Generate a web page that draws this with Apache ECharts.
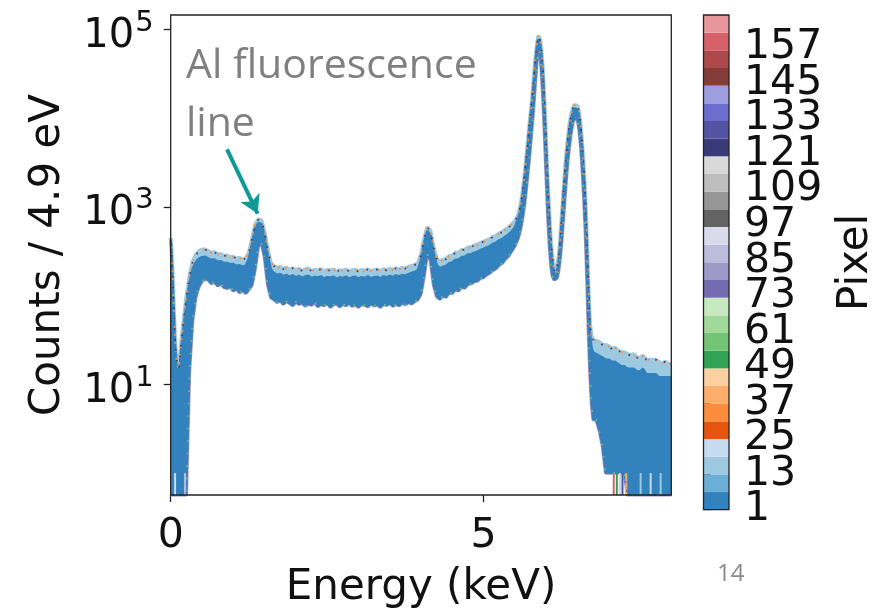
<!DOCTYPE html>
<html>
<head>
<meta charset="utf-8">
<script src="https://cdn.jsdelivr.net/npm/echarts@6/dist/echarts.min.js"></script>
<style>
  html, body { margin: 0; padding: 0; background: #ffffff; }
  #chart { width: 884px; height: 614px; }
</style>
</head>
<body>
<div id="chart"></div>
<script>
// Energy bins (keV) of the per-pixel spectra
const energy = [
  0, 0.01, 0.03, 0.05, 0.07, 0.09, 0.11, 0.13, 0.15, 0.17,
  0.20, 0.25, 0.30, 0.35, 0.40, 0.45, 0.50, 0.55, 0.60, 0.65, 0.70, 0.75, 0.80, 0.85, 0.90, 0.95,
  1.00, 1.05, 1.10, 1.15, 1.20, 1.25, 1.30, 1.35, 1.40, 1.45, 1.50, 1.55, 1.60, 1.65, 1.70, 1.75,
  1.80, 1.85, 1.90, 1.95, 2.00, 2.05, 2.10, 2.15, 2.20, 2.25, 2.30, 2.35, 2.40, 2.45, 2.50, 2.55,
  2.60, 2.65, 2.70, 2.75, 2.80, 2.85, 2.90, 2.95, 3.00, 3.05, 3.10, 3.15, 3.20, 3.25, 3.30, 3.35,
  3.40, 3.45, 3.50, 3.55, 3.60, 3.65, 3.70, 3.75, 3.80, 3.85, 3.90, 3.95, 4.00, 4.05, 4.10, 4.15,
  4.20, 4.25, 4.30, 4.35, 4.40, 4.45, 4.50, 4.55, 4.60, 4.65, 4.70, 4.75, 4.80, 4.85, 4.90, 4.95,
  5.00, 5.05, 5.10, 5.15, 5.20, 5.25, 5.30, 5.35, 5.40, 5.45, 5.50,
  5.525, 5.55, 5.575, 5.60, 5.625, 5.65, 5.675, 5.70, 5.725, 5.75, 5.775, 5.80, 5.825, 5.85, 5.875,
  5.90, 5.925, 5.95, 5.975, 6.00, 6.025, 6.05, 6.075, 6.10, 6.125, 6.15, 6.175, 6.20, 6.225, 6.25,
  6.275, 6.30, 6.325, 6.35, 6.375, 6.40, 6.425, 6.45, 6.475, 6.50, 6.525, 6.55, 6.575, 6.60, 6.625,
  6.65, 6.675, 6.70, 6.725, 6.75, 6.775, 6.80,
  6.85, 6.90, 6.95, 7.00, 7.05, 7.10, 7.15, 7.20, 7.25, 7.30, 7.35, 7.40, 7.45, 7.50, 7.55, 7.60,
  7.65, 7.70, 7.75, 7.80, 7.85, 7.90, 7.95, 8.00
];

// Highest count over all pixels in each bin
const bandTop = [
  447, 355, 178, 71, 32, 20, 16, 15, 21, 30,
  48, 95, 166, 240, 288, 316, 331, 331, 318, 305, 309, 292, 295, 280, 284, 271,
  274, 262, 266, 255, 264, 305, 437, 631, 724, 708, 525, 331, 234, 216, 205, 211,
  199, 207, 196, 204, 193, 201, 190, 198, 203, 188, 196, 192, 199, 187, 195, 191,
  198, 186, 194, 190, 197, 188, 193, 196, 187, 195, 190, 198, 189, 194, 197, 188,
  199, 193, 201, 195, 203, 198, 206, 202, 211, 216, 222, 232, 288, 437, 589, 537,
  355, 263, 243, 254, 259, 279, 284, 305, 306, 327, 329, 350, 352, 368, 377, 393,
  405, 421, 434, 461, 476, 505, 522, 556, 586, 634, 692,
  741, 813, 933, 1148, 1514, 2138, 3162, 4786, 7413, 11220, 16596, 26915, 44668, 66069, 85114,
  79433, 57544, 33113, 14125, 5248, 1905, 832, 417, 263, 200, 182, 214, 275, 437, 794,
  1445, 2512, 4169, 6310, 8710, 10965, 12882, 14125, 14454, 13804, 11749, 8511, 5248, 2818, 1318,
  447, 132, 48, 35, 32, 32, 31,
  30, 28, 28, 27, 25, 26, 24, 23, 23, 22, 21, 22, 20, 20, 21, 19,
  19, 19, 19, 18, 17, 18, 17, 17
];

// Upper edge of the bulk of pixels (the dark core of the band)
const coreTop = [
  420, 330, 160, 62, 28, 17, 14, 13, 18, 26,
  40, 80, 138, 200, 238, 262, 272, 275, 262, 254, 255, 243, 244, 233, 234, 226,
  227, 218, 220, 212, 218, 262, 390, 570, 660, 645, 470, 290, 198, 180, 172, 175,
  166, 172, 163, 170, 161, 167, 158, 165, 168, 157, 163, 160, 165, 156, 162, 159,
  164, 155, 161, 158, 164, 156, 161, 163, 156, 162, 158, 165, 157, 161, 164, 156,
  166, 161, 167, 162, 169, 165, 171, 168, 175, 180, 185, 195, 250, 395, 540, 485,
  310, 222, 203, 211, 216, 232, 236, 254, 255, 272, 274, 291, 293, 306, 314, 327,
  337, 351, 362, 384, 397, 421, 436, 464, 490, 532, 585,
  660, 730, 840, 1040, 1380, 1950, 2900, 4400, 6800, 10300, 15300, 24800, 41000, 61000, 78000,
  73000, 52500, 30000, 12700, 4700, 1700, 740, 370, 232, 178, 163, 190, 245, 392, 715,
  1300, 2270, 3780, 5730, 7930, 10000, 11760, 12900, 13200, 12600, 10700, 7750, 4760, 2540, 1180,
  395, 112, 38, 26, 23, 23, 22,
  21, 20, 19, 19, 18, 18, 17, 16, 16, 15, 15, 15, 14, 14, 15, 13,
  13, 13, 13, 12, 12, 12, 12, 12
];

// Lowest count over all pixels in each bin (0 = empty bin)
const bandBottom = [
  0, 0, 0, 0, 0, 0, 0, 0, 0, 0,
  0, 0, 14, 52, 95, 126, 145, 155, 150, 137, 143, 129, 136, 124, 121, 126,
  113, 119, 108, 114, 106, 117, 132, 200, 355, 398, 263, 132, 95, 90, 84, 88,
  80, 86, 82, 77, 85, 80, 83, 76, 81, 78, 84, 75, 80, 77, 82, 74,
  79, 81, 75, 80, 77, 82, 76, 79, 74, 80, 78, 75, 81, 77, 79, 74,
  80, 78, 82, 76, 80, 77, 83, 79, 84, 81, 86, 90, 105, 166, 295, 251,
  132, 98, 91, 99, 96, 107, 106, 117, 113, 125, 122, 134, 136, 144, 146, 157,
  160, 172, 180, 193, 202, 221, 232, 259, 280, 318, 363,
  398, 437, 501, 603, 759, 1000, 1413, 2089, 3162, 5012, 7943, 13183, 23988, 41687, 60256,
  54954, 33113, 15849, 6310, 2239, 832, 380, 219, 166, 151, 145, 158, 191, 263, 417,
  724, 1259, 2188, 3467, 5012, 6918, 8710, 10000, 10233, 9550, 7586, 5012, 2754, 1318, 550,
  166, 40, 13, 6, 4, 4, 4,
  3, 2, 1, 1, 1, 1, 1, 1, 1, 0, 0, 0, 0, 0, 0, 0,
  0, 0, 0, 0, 0, 0, 0, 0
];

// Bins where a single pixel recorded no counts
const zeroBinEnergy = [0.005, 0.07, 0.23, 7.08, 7.13, 7.18, 7.22, 7.28, 7.51, 7.67, 7.83];
const zeroBinPixel  = [158, 19, 90, 160, 52, 20, 130, 42, 15, 20, 15];

// Axis ticks
const xTicks = [0, 5];
const yTicks = [10, 1000, 100000];
const pixelTicks = [1, 13, 25, 37, 49, 61, 73, 85, 97, 109, 121, 133, 145, 157];
const pixelRange = [1, 168];

// tab20c followed by the blue and red groups of tab20b
const pixelPalette = [
  '#3182bd', '#6baed6', '#9ecae1', '#c6dbef',
  '#e6550d', '#fd8d3c', '#fdae6b', '#fdd0a2',
  '#31a354', '#74c476', '#a1d99b', '#c7e9c0',
  '#756bb1', '#9e9ac8', '#bcbddc', '#dadaeb',
  '#636363', '#969696', '#bdbdbd', '#d9d9d9',
  '#393b79', '#5254a3', '#6b6ecf', '#9c9ede',
  '#843c39', '#ad494a', '#d6616b', '#e7969c'
];

// Annotation arrow, in data units [keV, counts]
const arrowTail = [0.90, 4470];
const arrowHead = [1.39, 840];

const yMin = 0.566, yMax = 145900;
const floorAt = v => Math.max(v, yMin);

const pixelSpan = (pixelRange[1] - pixelRange[0]) / pixelPalette.length;
const pixelColor = p => pixelPalette[Math.min(pixelPalette.length - 1, Math.floor((p - pixelRange[0]) / pixelSpan))];

const lowerTrace = energy.map((e, i) => [e, floorAt(bandBottom[i])]);
const upperTrace = energy.map((e, i) => [e, bandTop[i]]);
const coreTrace = energy.map((e, i) => [e, coreTop[i]]);
const envelope = energy.map((e, i) => [e, bandTop[i], coreTop[i], floorAt(bandBottom[i])]);
const zeroBins = zeroBinEnergy.map((e, i) => [e, zeroBinPixel[i]]);
const colorBins = pixelPalette.map((c, i) => [i, pixelRange[0] + i * pixelSpan, pixelRange[0] + (i + 1) * pixelSpan]);
// colour-bar labels are split over two axes so neighbouring labels are not dropped
const pixelTicksA = pixelTicks.filter((_, i) => i % 2 === 0);
const pixelTicksB = pixelTicks.filter((_, i) => i % 2 === 1);

const FONT = 'DejaVu Sans';
const ink = '#111111';
const bandBlue = '#3182bd';
const haloBlue = '#9ecae1';

// One filled polygon between an upper dimension and the lower envelope
function bandRenderer(upperDim, fill) {
  return (params, api) => {
    if (params.dataIndexInside !== 0) return null;
    const n = params.dataInsideLength;
    const pts = [];
    for (let j = 0; j < n; j++) pts.push(api.coord([api.value(0, j), api.value(upperDim, j)]));
    for (let j = n - 1; j >= 0; j--) pts.push(api.coord([api.value(0, j), api.value(3, j)]));
    return { type: 'polygon', shape: { points: pts }, style: { fill: fill } };
  };
}

function edgeLine(data, color, width, dash, offset, z) {
  return {
    type: 'line', xAxisIndex: 0, yAxisIndex: 0, data: data, z: z,
    showSymbol: false, silent: true,
    lineStyle: { color: color, width: width, type: dash, dashOffset: offset }
  };
}

function colorbarAxis(gridIndex, ticks, withName) {
  const axis = {
    type: 'value', gridIndex: gridIndex, min: pixelRange[0], max: pixelRange[1], position: 'right',
    axisLine: { show: false },
    axisTick: { show: true, length: 7, lineStyle: { color: '#222', width: 1.3 }, customValues: ticks },
    axisLabel: {
      customValues: ticks, fontFamily: FONT, fontSize: 41, color: ink, margin: 15,
      showMinLabel: true, showMaxLabel: true
    },
    splitLine: { show: false }
  };
  if (withName) {
    axis.name = 'Pixel';
    axis.nameLocation = 'middle';
    axis.nameRotate = 90;
    axis.nameGap = 106;
    axis.nameTextStyle = { fontFamily: FONT, fontSize: 42, color: ink };
  }
  return axis;
}

const chart = echarts.init(document.getElementById('chart'), null, { renderer: 'canvas' });

chart.setOption({
  animation: false,
  backgroundColor: '#ffffff',
  grid: [
    { left: 170.7, top: 15, width: 500.6, height: 494.7, show: true, borderColor: '#222', borderWidth: 1.3, backgroundColor: 'transparent', z: 10 },
    { left: 703.5, top: 15, width: 25.5, height: 494.7, show: true, borderColor: '#222', borderWidth: 1.3, backgroundColor: 'transparent', z: 10 },
    { left: 703.5, top: 15, width: 25.5, height: 494.7, show: false }
  ],
  xAxis: [
    {
      type: 'value', gridIndex: 0, min: 0, max: 8, interval: 5,
      axisLine: { show: false },
      axisTick: { show: true, length: 7, lineStyle: { color: '#222', width: 1.3 }, customValues: xTicks },
      axisLabel: { customValues: xTicks, fontFamily: FONT, fontSize: 41, color: ink, margin: 21 },
      splitLine: { show: false },
      name: 'Energy (keV)', nameLocation: 'middle', nameGap: 72,
      nameTextStyle: { fontFamily: FONT, fontSize: 42, color: ink }
    },
    { type: 'value', gridIndex: 1, min: 0, max: 1, show: false },
    { type: 'value', gridIndex: 2, min: 0, max: 1, show: false }
  ],
  yAxis: [
    {
      type: 'log', gridIndex: 0, min: yMin, max: yMax, logBase: 10,
      axisLine: { show: false },
      axisTick: { show: true, length: 7, lineStyle: { color: '#222', width: 1.3 }, customValues: yTicks },
      axisLabel: {
        customValues: yTicks, margin: 17, color: ink,
        formatter: v => '{b|10}{s|' + Math.round(Math.log10(v)) + '}',
        rich: {
          b: { fontFamily: FONT, fontSize: 40, lineHeight: 40, color: ink, padding: [14, 0, 0, 0] },
          s: { fontFamily: FONT, fontSize: 29, lineHeight: 29, color: ink, padding: [0, 0, 12, 1] }
        }
      },
      minorTick: { show: false },
      splitLine: { show: false },
      name: 'Counts / 4.9 eV', nameLocation: 'middle', nameRotate: 90, nameGap: 102,
      nameTextStyle: { fontFamily: FONT, fontSize: 42, color: ink }
    },
    colorbarAxis(1, pixelTicksA, true),
    colorbarAxis(2, pixelTicksB, false)
  ],
  series: [
    {
      // light halo along the upper envelope; also carries the annotation arrow
      type: 'line', xAxisIndex: 0, yAxisIndex: 0, data: upperTrace, z: 1,
      showSymbol: false, silent: true,
      lineStyle: { color: haloBlue, width: 4 },
      markLine: {
        silent: true, symbol: ['none', 'arrow'], symbolSize: [16, 18],
        label: { show: false },
        lineStyle: { color: '#0e9a97', width: 4, type: 'solid' },
        data: [[{ coord: arrowTail }, { coord: arrowHead }]]
      }
    },
    {
      // halo along the lower envelope
      type: 'line', xAxisIndex: 0, yAxisIndex: 0, data: lowerTrace, z: 1,
      showSymbol: false, silent: true,
      lineStyle: { color: '#9e9ac8', width: 3.5 }
    },
    {
      // full spread of the pixel spectra
      type: 'custom', xAxisIndex: 0, yAxisIndex: 0, data: envelope, z: 2, silent: true, clip: true,
      encode: { x: 0, y: [1, 3] },
      renderItem: bandRenderer(1, haloBlue)
    },
    {
      // bulk of the pixel spectra
      type: 'custom', xAxisIndex: 0, yAxisIndex: 0, data: envelope, z: 3, silent: true, clip: true,
      encode: { x: 0, y: [2, 3] },
      renderItem: bandRenderer(2, bandBlue)
    },
    edgeLine(coreTrace, bandBlue, 2.5, 'solid', 0, 3),
    edgeLine(lowerTrace, bandBlue, 2, 'solid', 0, 3),
    // individual outlying pixels showing along the edges of the band
    edgeLine(upperTrace, '#fd8d3c', 1.8, [2, 6], 0, 4),
    edgeLine(upperTrace, '#393b79', 1.8, [1.5, 9], 4, 4),
    edgeLine(lowerTrace, '#756bb1', 1.8, [2, 7], 1, 4),
    edgeLine(lowerTrace, '#74c476', 1.8, [1.5, 11], 6, 4),
    {
      // single-pixel empty bins dropping to the bottom of the axis
      type: 'custom', xAxisIndex: 0, yAxisIndex: 0, data: zeroBins, z: 4, silent: true,
      renderItem: (params, api) => {
        const e = api.value(0);
        const a = api.coord([e, 1]);
        const b = api.coord([e, yMin]);
        return {
          type: 'line',
          shape: { x1: a[0], y1: a[1], x2: b[0], y2: b[1] },
          style: { stroke: pixelColor(api.value(1)), lineWidth: 2 }
        };
      }
    },
    {
      // colour bar
      type: 'custom', xAxisIndex: 1, yAxisIndex: 1, data: colorBins, silent: true,
      renderItem: (params, api) => {
        const p0 = api.coord([0, api.value(2)]);
        const p1 = api.coord([1, api.value(1)]);
        return {
          type: 'rect',
          shape: { x: p0[0], y: p0[1], width: p1[0] - p0[0], height: p1[1] - p0[1] },
          style: { fill: pixelPalette[api.value(0)] }
        };
      }
    }
  ],
  graphic: [
    { type: 'text', left: 186, top: 46, style: { text: 'Al fluorescence', font: '41px "Open Sans"', fill: '#808080' } },
    { type: 'text', left: 186, top: 104, style: { text: 'line', font: '41px "Open Sans"', fill: '#808080' } },
    { type: 'text', left: 717, top: 562, style: { text: '14', font: '24px "Open Sans"', fill: '#8a8a8a' } }
  ]
});
</script>
</body>
</html>
